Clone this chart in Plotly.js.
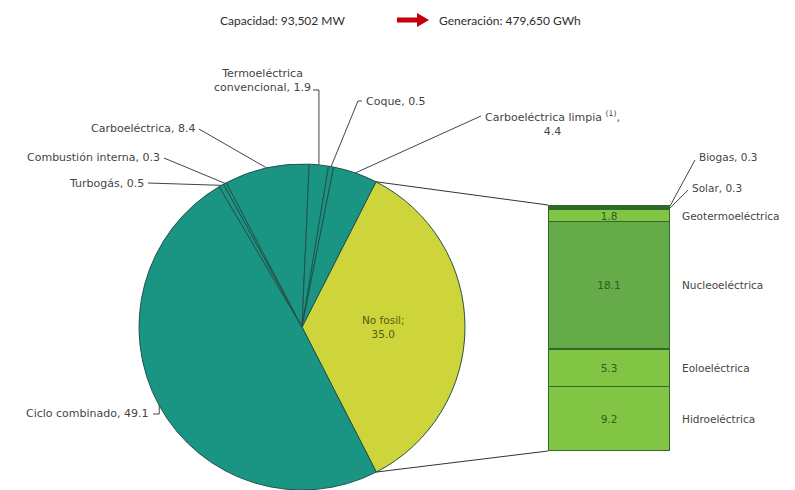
<!DOCTYPE html>
<html><head><meta charset="utf-8">
<script src="https://cdn.plot.ly/plotly-3.0.1.min.js"></script>
<style>body{margin:0;background:#fff}</style>
</head><body><div id="chart" style="width:795px;height:490px"></div>
<script>
// ---- data ----
const pieLabels = ['No fosil','Ciclo combinado','Turbogás','Combustión interna','Carboeléctrica','Termoeléctrica convencional','Coque','Carboeléctrica limpia'];
const pieValues = [35.0, 49.1, 0.5, 0.3, 8.4, 1.9, 0.5, 4.4];
const barLabels = ['Hidroeléctrica','Eoloeléctrica','Nucleoeléctrica','Geotermoeléctrica','Solar','Biogas'];
const barValues = [9.2, 5.3, 18.1, 1.8, 0.3, 0.3];
const headerLeft = 'Capacidad: 93,502 MW';
const headerRight = 'Generación: 479,650 GWh';

// ---- geometry / style ----
const W = 795, H = 490;
const CX = 302, CY = 327, R = 163, ROT = 27;
const BAR_L = 548, BAR_R = 670, BAR_T = 205, BAR_B = 451;
const FONT = '"DejaVu Sans", "Noto Sans", sans-serif';
const HFONT = 'Lato, "Noto Sans", sans-serif';
const TXT = '#454545';
const TEAL = '#1a9483', YEL = '#cdd53b';
const px = x => x / W, py = y => 1 - y / H;

const pieTotal = pieValues.reduce((a, b) => a + b, 0);
const barTotal = barValues.reduce((a, b) => a + b, 0);
function edge(a, rr) { const t = a * Math.PI / 180; rr = rr || R; return [CX + rr * Math.sin(t), CY - rr * Math.cos(t)]; }
const starts = [], mids = [];
let cum = 0;
pieValues.forEach(v => { starts.push(ROT + cum / pieTotal * 360); mids.push(ROT + (cum + v / 2) / pieTotal * 360); cum += v; });

const sliceColors = pieLabels.map((l, i) => i === 0 ? YEL : TEAL);

const traces = [{
  type: 'pie', labels: pieLabels, values: pieValues, sort: false, direction: 'clockwise', rotation: ROT,
  marker: { colors: sliceColors, line: { color: '#24524b', width: 1 } },
  textinfo: 'none', hoverinfo: 'label+value', showlegend: false,
  domain: { x: [px(CX - R), px(CX + R)], y: [py(CY + R), py(CY - R)] }
}];

const barColors = ['#82c443', '#82c443', '#65ab4a', '#82c443', '#2d6a2a', '#2d6a2a'];
let bcum = 0;
const barMids = [];
barValues.forEach((v, i) => {
  barMids.push(bcum + v / 2); bcum += v;
  const t = {
    type: 'bar', x: [0], y: [v], name: barLabels[i], showlegend: false,
    marker: { color: barColors[i], line: { color: '#2f6a2a', width: 1.2 } },
    hoverinfo: 'name+y', cliponaxis: false, textposition: 'none'
  };
  if (v >= 1) Object.assign(t, { text: [v.toFixed(1)], textposition: 'inside', insidetextanchor: 'middle',
    constraintext: 'none', textfont: { family: FONT, size: 10.5, color: '#2e5e1e' } });
  traces.push(t);
});

const annotations = [], shapes = [];
function ann(text, x, y, xanchor, extra) {
  annotations.push(Object.assign({ text, x: px(x), y: py(y), xref: 'paper', yref: 'paper', xanchor, yanchor: 'middle',
    showarrow: false, font: { family: FONT, size: 11, color: TXT } }, extra || {}));
}
function path(pts, color, fill) {
  const s = { type: 'path', xref: 'paper', yref: 'paper',
    path: 'M ' + pts.map(p => px(p[0]).toFixed(5) + ' ' + py(p[1]).toFixed(5)).join(' L ') + (fill ? ' Z' : ''),
    line: { color: color || '#444', width: fill ? 0 : 1 } };
  if (fill) s.fillcolor = fill;
  shapes.push(s);
}

// header
ann(headerLeft, 347, 20, 'right', { font: { family: HFONT, size: 12, color: '#2e2e2e' } });
ann(headerRight, 437, 20, 'left', { font: { family: HFONT, size: 12, color: '#2e2e2e' } });
path([[397, 17.5], [417, 17.5], [417, 13], [429, 20], [417, 27], [417, 22.5], [397, 22.5]], '#c4000b', '#c4000b');

// pie labels (positions are layout; line endpoints on pie come from data)
const e = i => edge(mids[i]);
ann(pieLabels[1] + ', ' + pieValues[1].toFixed(1), 151, 413, 'right');
path([[153, 414], [e(1)[0], 414], e(1)]);
ann(pieLabels[2] + ', ' + pieValues[2].toFixed(1), 146, 183, 'right');
path([[148, 183], e(2)]);
ann(pieLabels[3] + ', ' + pieValues[3].toFixed(1), 162, 157, 'right');
path([[164, 158], e(3)]);
ann(pieLabels[4] + ', ' + pieValues[4].toFixed(1), 197, 128, 'right');
path([[199, 129], e(4)]);
ann('Termoeléctrica<br>convencional, ' + pieValues[5].toFixed(1), 262, 81, 'center', { align: 'center' });
path([[313, 90], [e(5)[0], 90], e(5)]);
ann(pieLabels[6] + ', ' + pieValues[6].toFixed(1), 364, 101, 'left');
path([[362, 101], [358, 101], e(6)]);
ann('Carboeléctrica limpia <sup>(1)</sup>,<br>' + pieValues[7].toFixed(1), 552, 123, 'center', { align: 'center' });
path([[481, 116], e(7)]);
const nf = edge(mids[0], R * 0.5);
ann(pieLabels[0] + ';<br>' + pieValues[0].toFixed(1), nf[0], nf[1], 'center', { font: { family: FONT, size: 10.5, color: '#555c10' } });

// pie -> bar connectors
const barY = v => BAR_B - (BAR_B - BAR_T) * v / barTotal;
path([edge(starts[0]), [BAR_L, barY(barTotal)]], '#333');
path([edge(starts[0] + pieValues[0] / pieTotal * 360), [BAR_L, barY(0)]], '#333');

// bar right labels
[0, 1, 2, 3].forEach(i => {
  annotations.push({ text: barLabels[i], x: px(680), xref: 'paper', y: barMids[i], yref: 'y', xanchor: 'left', yanchor: 'middle',
    showarrow: false, font: { family: FONT, size: 10.5, color: TXT } });
});
ann(barLabels[4] + ', ' + barValues[4].toFixed(1), 690, 188, 'left', { font: { family: FONT, size: 10.5, color: TXT } });
path([[688, 190], [BAR_R, barY(barMids[4])]]);
ann(barLabels[5] + ', ' + barValues[5].toFixed(1), 697, 157, 'left', { font: { family: FONT, size: 10.5, color: TXT } });
path([[695, 160], [BAR_R, barY(barMids[5])]]);

const layout = {
  width: W, height: H, margin: { l: 0, r: 0, t: 0, b: 0 }, paper_bgcolor: '#fff', plot_bgcolor: 'rgba(0,0,0,0)',
  barmode: 'stack', bargap: 0, showlegend: false,
  xaxis: { domain: [px(BAR_L), px(BAR_R)], range: [-0.5, 0.5], visible: false, fixedrange: true },
  yaxis: { domain: [py(BAR_B), py(BAR_T)], range: [0, barTotal], visible: false, fixedrange: true },
  annotations, shapes
};
Plotly.newPlot('chart', traces, layout, { displayModeBar: false, staticPlot: true });
</script></body></html>
